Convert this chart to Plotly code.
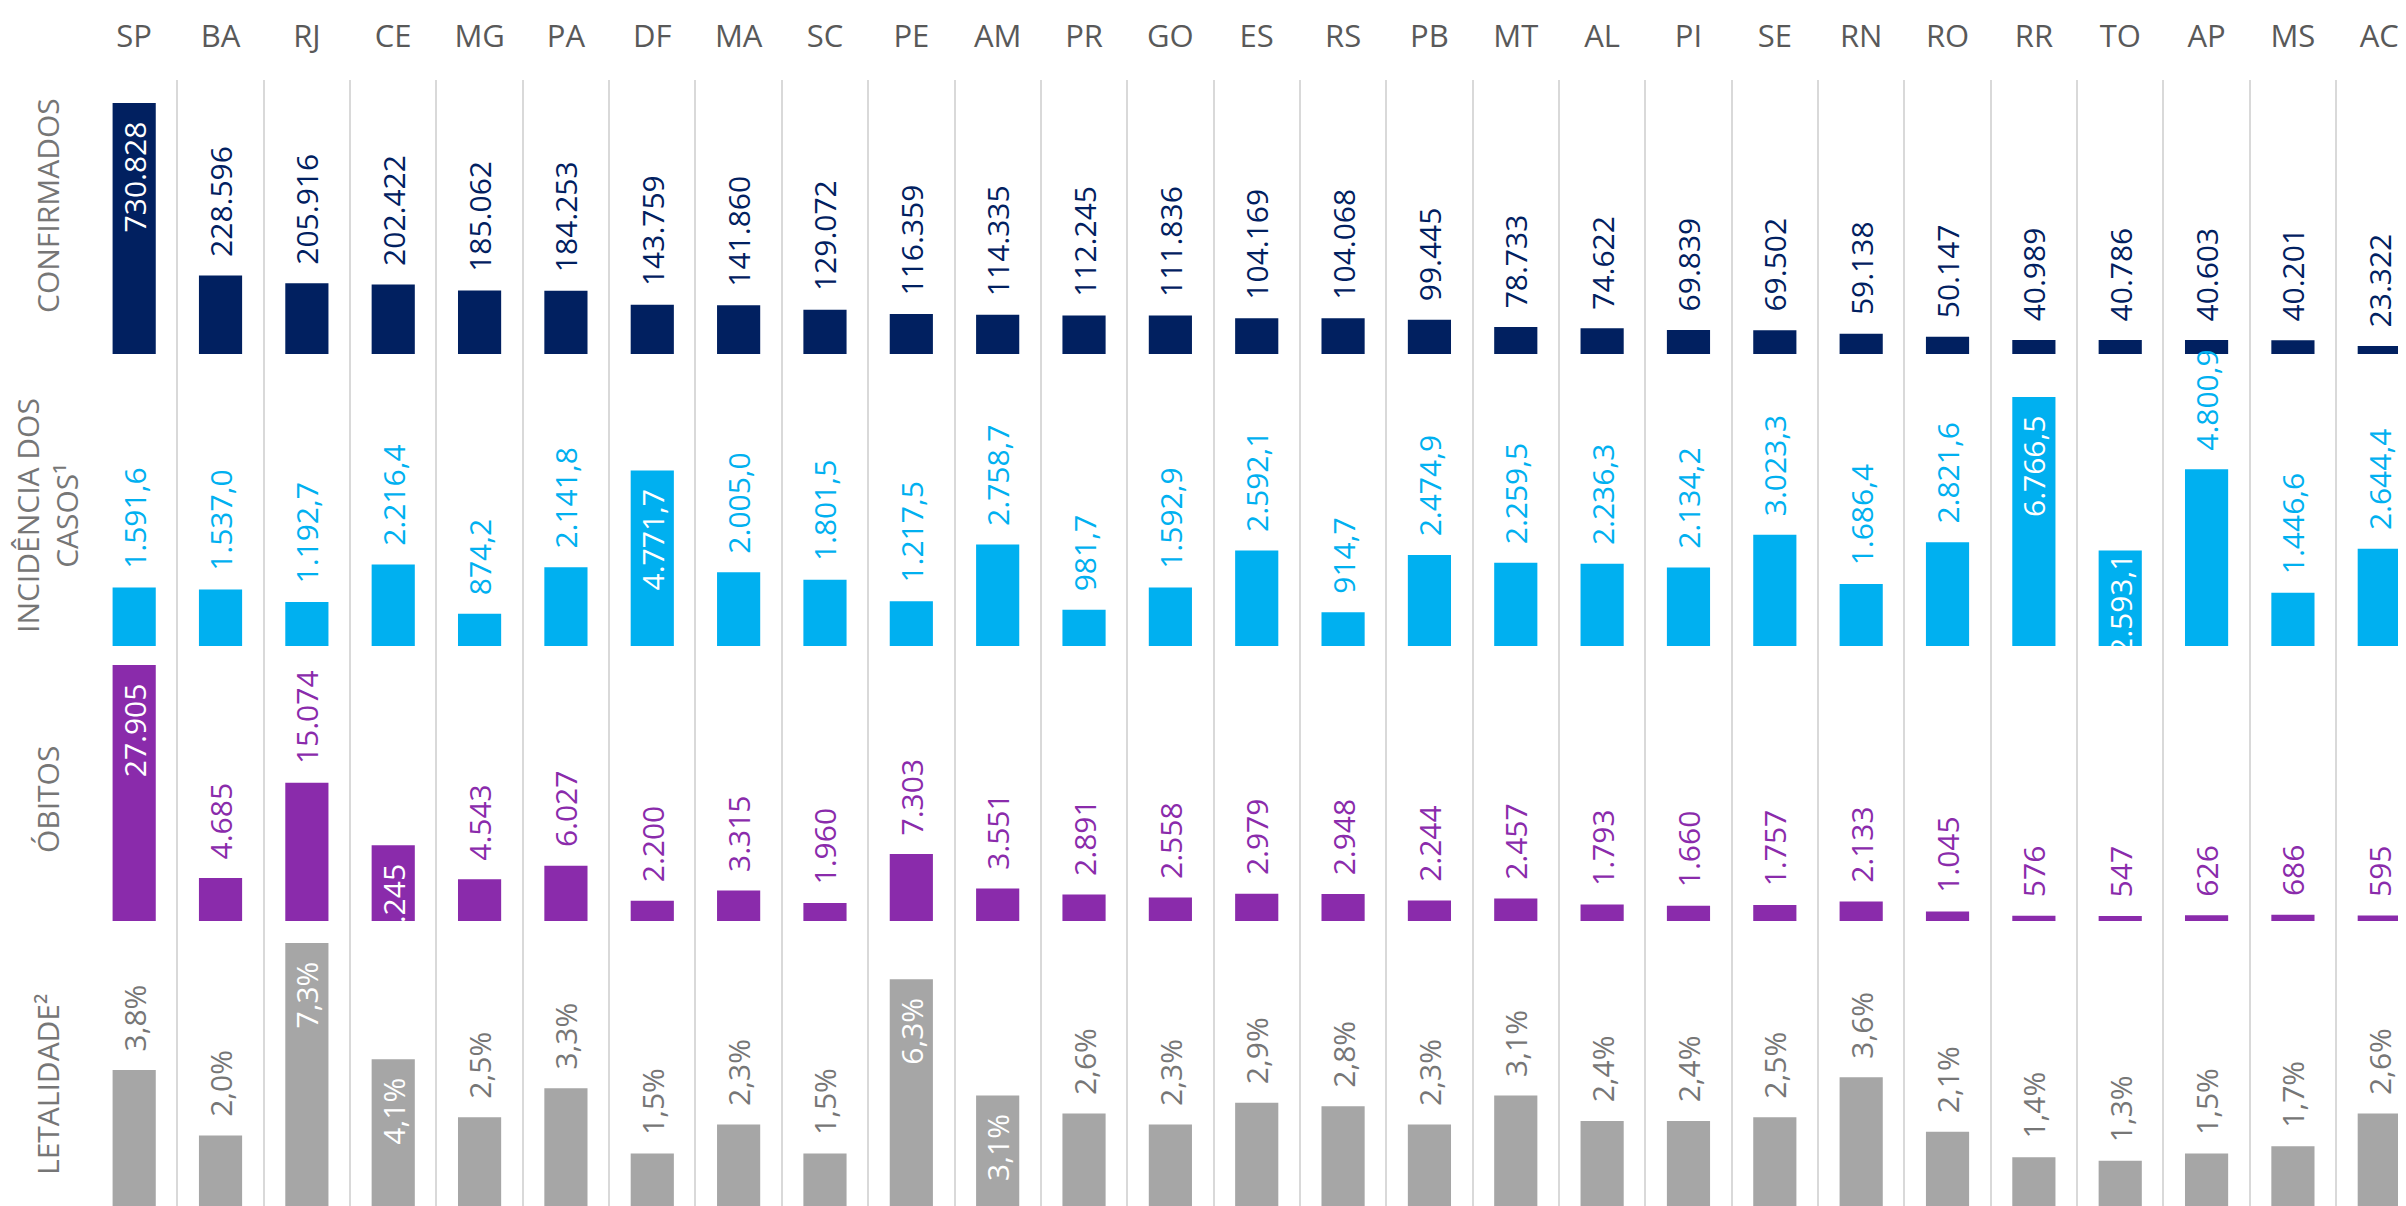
import plotly.graph_objects as go

states = ["SP", "BA", "RJ", "CE", "MG", "PA", "DF", "MA", "SC", "PE", "AM", "PR", "GO", "ES",
          "RS", "PB", "MT", "AL", "PI", "SE", "RN", "RO", "RR", "TO", "AP", "MS", "AC"]
confirmados = [730828, 228596, 205916, 202422, 185062, 184253, 143759, 141860, 129072, 116359,
               114335, 112245, 111836, 104169, 104068, 99445, 78733, 74622, 69839, 69502,
               59138, 50147, 40989, 40786, 40603, 40201, 23322]
incidencia = [1591.6, 1537.0, 1192.7, 2216.4, 874.2, 2141.8, 4771.7, 2005.0, 1801.5, 1217.5,
              2758.7, 981.7, 1592.9, 2592.1, 914.7, 2474.9, 2259.5, 2236.3, 2134.2, 3023.3,
              1686.4, 2821.6, 6766.5, 2593.1, 4800.9, 1446.6, 2644.4]
obitos = [27905, 4685, 15074, 8245, 4543, 6027, 2200, 3315, 1960, 7303, 3551, 2891, 2558, 2979,
          2948, 2244, 2457, 1793, 1660, 1757, 2133, 1045, 576, 547, 626, 686, 595]
letalidade = [3.8, 2.0, 7.3, 4.1, 2.5, 3.3, 1.5, 2.3, 1.5, 6.3, 3.1, 2.6, 2.3, 2.9, 2.8, 2.3,
              3.1, 2.4, 2.4, 2.5, 3.6, 2.1, 1.4, 1.3, 1.5, 1.7, 2.6]
row_titles = ["CONFIRMADOS", "INCIDÊNCIA DOS<br>CASOS¹", "ÓBITOS", "LETALIDADE²"]

W, H = 2406, 1206
OFF = 8  # page body margin offset (screen px -> figure px)
FONT = "Open Sans"
LBL = 30

# style configuration (not data); pixel positions in screen coordinates
rows = [
    dict(values=confirmados, fmt="%{y:,.0f}", color="#012060", label_color="#012060",
         inside=["SP"], tight=[], px=(80, 354), top_px=103, base_px=354, ymax_val=730828,
         title_y=206),
    dict(values=incidencia, fmt="%{y:,.1f}", color="#00B0F0", label_color="#00B0F0",
         inside=["DF", "RR", "TO"], tight=["TO"], px=(354, 646), top_px=397, base_px=646,
         ymax_val=6766.5, title_y=516),
    dict(values=obitos, fmt="%{y:,.0f}", color="#8A2BAB", label_color="#8A2BAB",
         inside=["SP", "CE"], tight=[], px=(646, 921), top_px=665, base_px=921,
         ymax_val=27905, title_y=800),
    dict(values=letalidade, fmt="%{y:.1f}%", color="#A6A6A6", label_color="#767676",
         inside=["RJ", "CE", "PE", "AM"], tight=[], px=(921, H + OFF), top_px=943,
         base_px=1208, ymax_val=7.3, title_y=1085),
]

GAP_OUT = "\u00a0\u00a0"
GAP_IN = "\u00a0\u00a0\u200b"
x_idx = list(range(len(states)))
fig = go.Figure()
layout_axes = {}
for r, row in enumerate(rows):
    yname = "y" if r == 0 else f"y{r + 1}"
    axname = "yaxis" if r == 0 else f"yaxis{r + 1}"
    tpos, ttmpl = [], []
    for s in states:
        if s in row["inside"]:
            tpos.append("inside")
            ttmpl.append(row["fmt"] + ("" if s in row["tight"] else GAP_IN))
        else:
            tpos.append("outside")
            ttmpl.append(GAP_OUT + row["fmt"])
    fig.add_trace(go.Bar(
        x=x_idx, y=row["values"], xaxis="x", yaxis=yname,
        width=0.5, marker=dict(color=row["color"], line=dict(width=0)),
        texttemplate=ttmpl, textposition=tpos, textangle=-90,
        insidetextanchor="end", constraintext="none", cliponaxis=False,
        textfont=dict(family=FONT, size=LBL),
        insidetextfont=dict(family=FONT, size=LBL, color="white"),
        outsidetextfont=dict(family=FONT, size=LBL, color=row["label_color"]),
        hoverinfo="skip", showlegend=False,
    ))
    top, bot = row["px"]
    dom = [1 - (bot - OFF) / H, 1 - (top - OFF) / H]
    scale = (row["base_px"] - row["top_px"]) / row["ymax_val"]
    ymax = (row["base_px"] - top) / scale
    ymin = (row["base_px"] - bot) / scale
    layout_axes[axname] = dict(domain=[max(0, dom[0]), min(1, dom[1])], range=[ymin, ymax],
                               anchor="x", visible=False,
                               showgrid=False, zeroline=False, fixedrange=True)
    fig.add_annotation(text=row_titles[r], x=(47 - OFF) / W, y=1 - (row["title_y"] - OFF) / H,
                       xref="paper", yref="paper", textangle=-90, showarrow=False,
                       font=dict(family=FONT, size=30, color="#767676"),
                       xanchor="center", yanchor="middle", align="center")

col_w = 86.35
x0_px = 91
n_vis = (W + OFF - x0_px) / col_w
fig.update_layout(
    width=W, height=H,
    margin=dict(l=0, r=0, t=0, b=0),
    paper_bgcolor="white", plot_bgcolor="white",
    separators=",.",
    bargap=0.5,
    xaxis=dict(domain=[(x0_px - OFF) / W, 1], range=[-0.5, -0.5 + n_vis], anchor="y",
               side="top", tickmode="array", tickvals=x_idx, ticktext=states,
               tickfont=dict(family=FONT, size=31, color="#595959"),
               ticks="outside", ticklen=20, tickcolor="rgba(0,0,0,0)",
               showgrid=False, zeroline=False, showline=False, automargin=False,
               minor=dict(tickmode="linear", tick0=0.5, dtick=1, showgrid=True,
                          gridcolor="#D9D9D9", gridwidth=2, ticks=""),
               fixedrange=True),
    **layout_axes,
)
fig.write_html("out.html")
